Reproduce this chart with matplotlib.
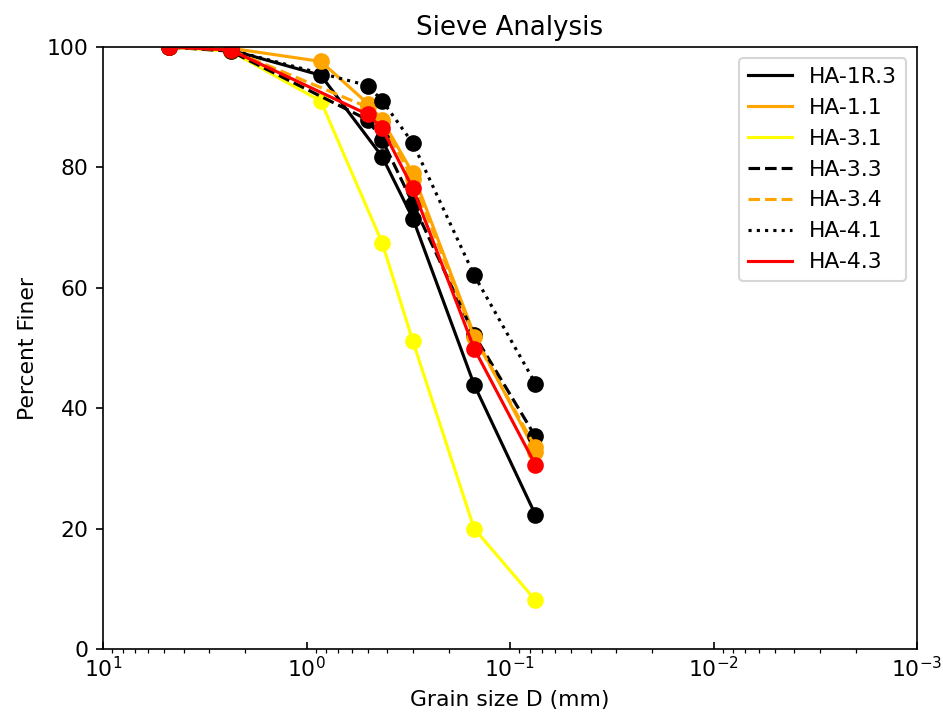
import numpy as np
import matplotlib
matplotlib.use("Agg")
import matplotlib.pyplot as plt

sieves = [4.75, 2.36, 0.85, 0.5, 0.425, 0.3, 0.15, 0.075]
nan = np.nan

ha_1r3 = [100, 99.5, 95.3, nan, 81.8, 71.5, 43.9, 22.3]
ha_11 = [100, 99.8, 97.6, 90.6, 87.9, 79.0, 52.2, 32.8]
ha_31 = [100, 99.3, 91.0, nan, 67.5, 51.1, 20.0, 8.1]
ha_33 = [100, 99.3, nan, 87.9, 84.6, 74.0, 52.2, 35.3]
ha_34 = [100, 99.5, nan, 90.0, 87.5, 78.0, 51.8, 33.5]
ha_41 = [100, 99.5, nan, 93.6, 91.1, 84.0, 62.1, 44.1]
ha_43 = [100, 99.5, nan, 88.8, 86.5, 76.5, 49.9, 30.6]

labels = ["HA-1R.3", "HA-1.1", "HA-3.1", "HA-3.3", "HA-3.4", "HA-4.1", "HA-4.3"]
series = [ha_1r3, ha_11, ha_31, ha_33, ha_34, ha_41, ha_43]
colors = ["black", "orange", "yellow", "black", "orange", "black", "red"]
styles = ["-", "-", "-", "--", "--", ":", "-"]

fig = plt.figure(figsize=(943 / 150, 721 / 150), dpi=150)
ax = fig.add_axes([103 / 943, 1 - 649 / 721, (917 - 103) / 943, (649 - 47) / 721])

x = np.array(sieves)
for lab, vals, c, ls in zip(labels, series, colors, styles):
    v = np.array(vals, dtype=float)
    m = ~np.isnan(v)
    ax.plot(x[m], v[m], color=c, linestyle=ls, linewidth=1.5, label=lab)
    ax.plot(x[m], v[m], linestyle="none", marker="o", markersize=7, color=c)

ax.set_xscale("log")
ax.set_xlim(10, 0.001)
ax.set_ylim(0, 100)
ax.set_yticks([0, 20, 40, 60, 80, 100])
ax.tick_params(axis="x", which="major", direction="in")
ax.tick_params(labelsize=10.5)
ax.set_xlabel("Grain size D (mm)", fontsize=10.5)
ax.set_ylabel("Percent Finer", fontsize=10.5)
ax.set_title("Sieve Analysis", fontsize=12.5)
ax.legend(loc="upper right", fontsize=10.5)

fig.savefig("out.png", dpi=150)
